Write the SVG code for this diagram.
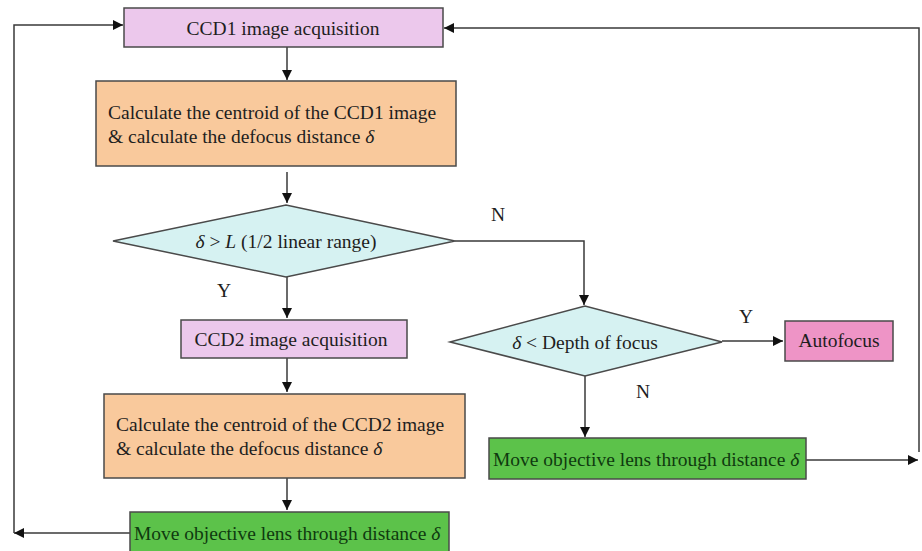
<svg xmlns="http://www.w3.org/2000/svg" width="922" height="551" viewBox="0 0 922 551">
<defs>
<marker id="ah" viewBox="0 0 10 10" refX="10" refY="5" markerWidth="10" markerHeight="10" markerUnits="userSpaceOnUse" orient="auto">
<path d="M0,0 L10,5 L0,10 z" fill="#111"/>
</marker>
<style>
.b{stroke:#4a4a4a;stroke-width:1.5}
.t{font-family:"Liberation Serif","Times New Roman",serif;font-size:19.5px;fill:#1e1e1e}
.g{fill:#0f3a0f}
.c{stroke:#3a3a3a;stroke-width:1.5;fill:none}
.a{marker-end:url(#ah)}
</style>
</defs>
<rect width="922" height="551" fill="#fff"/>
<g id="connectors">
<line class="c a" x1="287" y1="47" x2="287" y2="80"/>
<line class="c a" x1="287" y1="172" x2="287" y2="203"/>
<line class="c a" x1="287" y1="277" x2="287" y2="318"/>
<line class="c a" x1="287" y1="358" x2="287" y2="392"/>
<line class="c a" x1="287" y1="478" x2="287" y2="510"/>
<polyline class="c a" points="455,241 584,241 584,305"/>
<line class="c a" x1="722" y1="341" x2="783" y2="341"/>
<line class="c a" x1="585" y1="376" x2="585" y2="437"/>
<polyline class="c a" points="130,533 14,533"/>
<polyline class="c a" points="14,533 14,25 123,25"/>
<line class="c a" x1="806" y1="460" x2="918" y2="460"/>
<polyline class="c a" points="919,452 919,28 444,28"/>
<text class="t" x="498" y="221" text-anchor="middle">N</text>
<text class="t" x="224" y="297" text-anchor="middle">Y</text>
<text class="t" x="746" y="323" text-anchor="middle">Y</text>
<text class="t" x="643" y="398" text-anchor="middle">N</text>
</g>
<g id="ccd1">
<rect class="b" x="124" y="8" width="319" height="39" fill="#ecc8ec"/>
<text class="t" x="283" y="35" text-anchor="middle">CCD1 image acquisition</text>
</g>
<g id="calc1">
<rect class="b" x="96" y="81" width="360" height="85" fill="#f9c99c"/>
<text class="t" x="108" y="119">Calculate the centroid of the CCD1 image</text>
<text class="t" x="108" y="143">&amp; calculate the defocus distance <tspan font-style="italic">δ</tspan></text>
</g>
<g id="dec1">
<polygon class="b" points="113,241 286,205 455,241 286,277" fill="#d6f2f2"/>
<text class="t" x="286" y="248" text-anchor="middle"><tspan font-style="italic">δ</tspan> &gt; <tspan font-style="italic">L</tspan> (1/2 linear range)</text>
</g>
<g id="ccd2">
<rect class="b" x="181" y="320" width="226" height="38" fill="#ecc8ec"/>
<text class="t" x="291" y="346" text-anchor="middle">CCD2 image acquisition</text>
</g>
<g id="calc2">
<rect class="b" x="104" y="394" width="361" height="84" fill="#f9c99c"/>
<text class="t" x="116" y="431">Calculate the centroid of the CCD2 image</text>
<text class="t" x="116" y="455">&amp; calculate the defocus distance <tspan font-style="italic">δ</tspan></text>
</g>
<g id="move1">
<rect class="b" x="130" y="512" width="319" height="42" fill="#5cc24a"/>
<text class="t g" x="134" y="540">Move objective lens through distance <tspan font-style="italic">δ</tspan></text>
</g>
<g id="dec2">
<polygon class="b" points="450,342 585,306 722,342 585,376" fill="#d6f2f2"/>
<text class="t" x="585" y="349" text-anchor="middle"><tspan font-style="italic">δ</tspan> &lt; Depth of focus</text>
</g>
<g id="autofocus">
<rect class="b" x="785" y="321" width="108" height="40" fill="#ee94c6"/>
<text class="t" x="839" y="347" text-anchor="middle">Autofocus</text>
</g>
<g id="move2">
<rect class="b" x="489" y="438" width="317" height="41" fill="#5cc24a"/>
<text class="t g" x="493" y="466">Move objective lens through distance <tspan font-style="italic">δ</tspan></text>
</g>
</svg>
